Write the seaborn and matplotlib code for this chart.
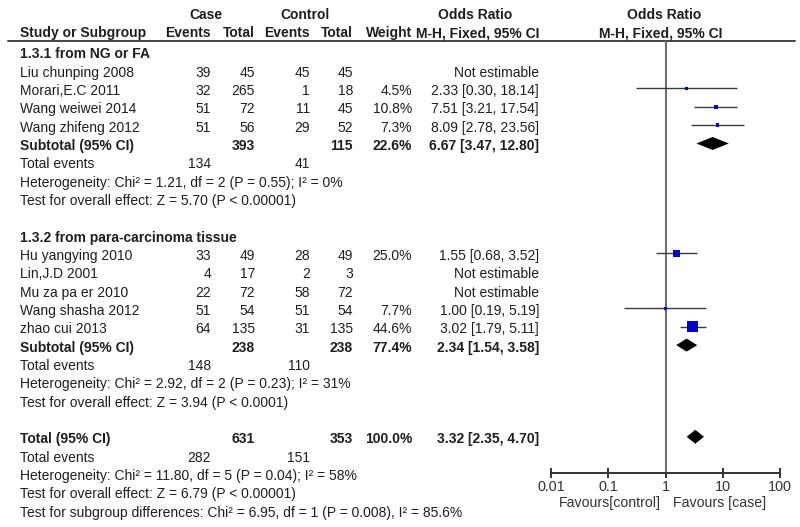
import numpy as np
import pandas as pd
import matplotlib
matplotlib.use("Agg")
import matplotlib.pyplot as plt
import seaborn as sns

# study level data
study = ["Liu chunping 2008", "Morari,E.C 2011", "Wang weiwei 2014", "Wang zhifeng 2012",
         "Hu yangying 2010", "Lin,J.D 2001", "Mu za pa er 2010", "Wang shasha 2012", "zhao cui 2013"]
group = [0, 0, 0, 0, 1, 1, 1, 1, 1]
case_events = [39, 32, 51, 51, 33, 4, 22, 51, 64]
case_total = [45, 265, 72, 56, 49, 17, 72, 54, 135]
ctrl_events = [45, 1, 11, 29, 28, 2, 58, 51, 31]
ctrl_total = [45, 18, 45, 52, 49, 3, 72, 54, 135]
weight = [np.nan, 4.5, 10.8, 7.3, 25.0, np.nan, np.nan, 7.7, 44.6]
odds = [np.nan, 2.33, 7.51, 8.09, 1.55, np.nan, np.nan, 1.00, 3.02]
ci_low = [np.nan, 0.30, 3.21, 2.78, 0.68, np.nan, np.nan, 0.19, 1.79]
ci_high = [np.nan, 18.14, 17.54, 23.56, 3.52, np.nan, np.nan, 5.19, 5.11]

# subgroup summaries
sub_names = ["1.3.1 from NG or FA", "1.3.2 from para-carcinoma tissue"]
sub_case_total = [393, 238]
sub_ctrl_total = [115, 238]
sub_case_events = [134, 148]
sub_ctrl_events = [41, 110]
sub_weight = [22.6, 77.4]
sub_or = [6.67, 2.34]
sub_low = [3.47, 1.54]
sub_high = [12.80, 3.58]
sub_het = ["Heterogeneity: Chi² = 1.21, df = 2 (P = 0.55); I² = 0%",
           "Heterogeneity: Chi² = 2.92, df = 2 (P = 0.23); I² = 31%"]
sub_test = ["Test for overall effect: Z = 5.70 (P < 0.00001)",
            "Test for overall effect: Z = 3.94 (P < 0.0001)"]

# overall
tot_case_total, tot_ctrl_total = 631, 353
tot_case_events, tot_ctrl_events = 282, 151
tot_weight = 100.0
tot_or, tot_low, tot_high = 3.32, 2.35, 4.70
tot_lines = ["Heterogeneity: Chi² = 11.80, df = 5 (P = 0.04); I² = 58%",
             "Test for overall effect: Z = 6.79 (P < 0.00001)",
             "Test for subgroup differences: Chi² = 6.95, df = 1 (P = 0.008), I² = 85.6%"]

axis_ticks = [0.01, 0.1, 1, 10, 100]
axis_labels = ["0.01", "0.1", "1", "10", "100"]

sns.set_style("white")
plt.rcParams["font.family"] = ["Liberation Sans", "DejaVu Sans"]
FS = 10.0
TXT = "#1e1e1e"

fig = plt.figure(figsize=(8, 5.27), dpi=100)
ax = fig.add_axes([0, 0, 1, 1])
ax.set_xlim(0, 800)
ax.set_ylim(527, 0)
ax.axis("off")

# forest panel: 1 at x=665.5, 57.2 px per decade
x0 = 665.5 - 2 * 57.2
x1 = 665.5 + 2 * 57.2
axf = fig.add_axes([x0 / 800, 0, (x1 - x0) / 800, 1])
axf.set_xscale("log")
axf.set_xlim(0.01, 100)
axf.set_ylim(527, 0)
axf.patch.set_alpha(0)


def row_y(k):
    return 36 + 18.33 * k


def put(x, y, s, ha="left", bold=False):
    ax.text(x, y, s, ha=ha, va="center", fontsize=FS, color=TXT,
            fontweight="bold" if bold else "normal")


COLS = [211, 255, 310, 353, 412, 539]

# header
put(206, 15, "Case", ha="center", bold=True)
put(305, 15, "Control", ha="center", bold=True)
put(475, 15, "Odds Ratio", ha="center", bold=True)
put(664, 15, "Odds Ratio", ha="center", bold=True)
put(20, 33, "Study or Subgroup", bold=True)
for x, s in zip(COLS[:5], ["Events", "Total", "Events", "Total", "Weight"]):
    put(x, 33, s, ha="right", bold=True)
put(COLS[5], 33, "M-H, Fixed, 95% CI", ha="right", bold=True)
put(661, 33, "M-H, Fixed, 95% CI", ha="center", bold=True)
ax.plot([8, 795], [40.5, 40.5], color="#444444", lw=1.4)

rows = []
k = 1
for g in range(2):
    put(20, row_y(k), sub_names[g], bold=True)
    k += 1
    for i in [j for j in range(len(study)) if group[j] == g]:
        y = row_y(k)
        put(20, y, study[i])
        for x, v in zip(COLS[:4], [case_events[i], case_total[i], ctrl_events[i], ctrl_total[i]]):
            put(x, y, str(v), ha="right")
        if np.isnan(odds[i]):
            put(COLS[5], y, "Not estimable", ha="right")
        else:
            put(COLS[4], y, f"{weight[i]:.1f}%", ha="right")
            put(COLS[5], y, f"{odds[i]:.2f} [{ci_low[i]:.2f}, {ci_high[i]:.2f}]", ha="right")
            rows.append({"y": y - 2.5, "odds": odds[i], "low": ci_low[i],
                         "high": ci_high[i], "weight": weight[i]})
        k += 1
    y = row_y(k)
    put(20, y, "Subtotal (95% CI)", bold=True)
    put(COLS[1], y, str(sub_case_total[g]), ha="right", bold=True)
    put(COLS[3], y, str(sub_ctrl_total[g]), ha="right", bold=True)
    put(COLS[4], y, f"{sub_weight[g]:.1f}%", ha="right", bold=True)
    put(COLS[5], y, f"{sub_or[g]:.2f} [{sub_low[g]:.2f}, {sub_high[g]:.2f}]", ha="right", bold=True)
    yd = y - 2.5
    axf.fill([sub_low[g], sub_or[g], sub_high[g], sub_or[g]], [yd, yd - 6.5, yd, yd + 6.5],
             color="black", lw=0, zorder=4)
    k += 1
    put(20, row_y(k), "Total events")
    put(COLS[0], row_y(k), str(sub_case_events[g]), ha="right")
    put(COLS[2], row_y(k), str(sub_ctrl_events[g]), ha="right")
    k += 1
    put(20, row_y(k), sub_het[g])
    k += 1
    put(20, row_y(k), sub_test[g])
    k += 2

y = row_y(k)
put(20, y, "Total (95% CI)", bold=True)
put(COLS[1], y, str(tot_case_total), ha="right", bold=True)
put(COLS[3], y, str(tot_ctrl_total), ha="right", bold=True)
put(COLS[4], y, f"{tot_weight:.1f}%", ha="right", bold=True)
put(COLS[5], y, f"{tot_or:.2f} [{tot_low:.2f}, {tot_high:.2f}]", ha="right", bold=True)
yd = y - 2.5
axf.fill([tot_low, tot_or, tot_high, tot_or], [yd, yd - 7, yd, yd + 7],
         color="black", lw=0, zorder=4)
k += 1
put(20, row_y(k), "Total events")
put(COLS[0], row_y(k), str(tot_case_events), ha="right")
put(COLS[2], row_y(k), str(tot_ctrl_events), ha="right")
k += 1
for line in tot_lines:
    put(20, row_y(k), line)
    k += 1

# forest marks, square side grows with weight (px -> pt at 100 dpi)
df = pd.DataFrame(rows)
marker_area = {w: ((2 + 0.2 * w) * 0.72) ** 2 for w in df["weight"]}
axf.vlines(1, 40.5, 473, color="#6e6e6e", lw=1.5, zorder=1)
axf.hlines(df["y"], df["low"], df["high"], color="#3c3c3c", lw=1.0, zorder=2)
sns.scatterplot(data=df, x="odds", y="y", size="weight", sizes=marker_area,
                marker="s", color="#0000c8", linewidth=0, legend=False, ax=axf, zorder=3)
axf.set_xlim(0.01, 100)
axf.set_ylim(527, 0)
axf.set_xlabel("")
axf.set_ylabel("")

# axis
for side in ["top", "left", "right"]:
    axf.spines[side].set_visible(False)
axf.spines["bottom"].set_position(("data", 473))
axf.spines["bottom"].set_color("#333333")
axf.spines["bottom"].set_linewidth(1.4)
axf.set_yticks([])
axf.xaxis.set_minor_locator(matplotlib.ticker.NullLocator())
axf.set_xticks(axis_ticks)
axf.set_xticklabels(axis_labels)
axf.tick_params(axis="x", direction="inout", length=7, width=1.4, color="#333333",
                labelsize=FS + 0.4, labelcolor="#333333", pad=1.5, bottom=True)

ax.text(661, 503, "Favours[control]", ha="right", va="center", fontsize=FS + 0.2, color="#333333")
ax.text(673, 503, "Favours [case]", ha="left", va="center", fontsize=FS + 0.2, color="#333333")

fig.savefig("out.png", dpi=100)
